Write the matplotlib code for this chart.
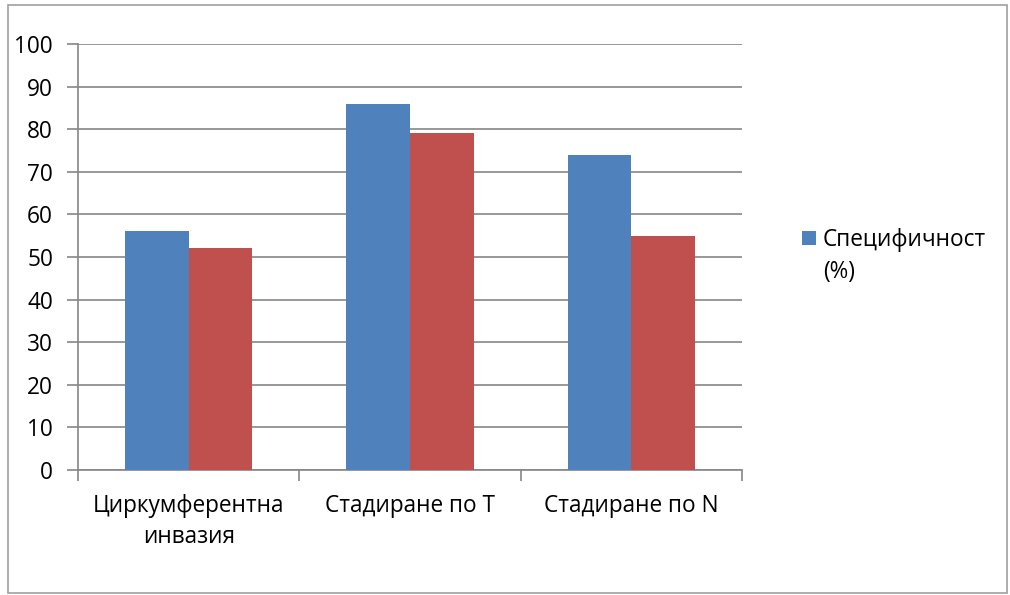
import numpy as np
import matplotlib.pyplot as plt
from matplotlib.patches import Rectangle

categories = ['Циркумферентна\nинвазия', 'Стадиране по Т', 'Стадиране по N']
specificity = [56, 86, 74]
second_series = [52, 79, 55]
legend_label = 'Специфичност'
legend_label_cont = '(%)'
y_ticks = [0, 10, 20, 30, 40, 50, 60, 70, 80, 90, 100]

plt.rcParams['font.family'] = ['Open Sans', 'DejaVu Sans']

fig = plt.figure(figsize=(10.1, 5.95), dpi=100)
ax = fig.add_axes([78 / 1010, 125 / 595, 664 / 1010, 426 / 595])

grey = '#868686'
fs = 16.3
x = np.arange(len(categories))
w = 0.287
b1 = ax.bar(x - w / 2, specificity, w, color='#4F81BD', label=legend_label, zorder=3)
ax.bar(x + w / 2, second_series, w, color='#C0504D', zorder=3)

ax.set_xlim(-0.5, len(categories) - 0.5)
ax.set_ylim(0, 100)
ax.set_yticks(y_ticks)
ax.yaxis.grid(True, color=grey, linewidth=1.2, zorder=0)
ax.set_axisbelow(True)

# category labels between boundary ticks
ax.set_xticks(np.arange(len(categories) + 1) - 0.5)
ax.set_xticklabels([])
ax.set_xticks(x, minor=True)
ax.set_xticklabels(categories, minor=True, fontsize=fs, linespacing=1.4)
ax.tick_params(axis='x', which='minor', length=0, pad=17)
ax.tick_params(axis='x', which='major', length=8, width=1.2, color=grey)
ax.tick_params(axis='y', length=8, width=1.2, color=grey, labelsize=fs, pad=10)

for s in ['top', 'right']:
    ax.spines[s].set_visible(False)
for s in ['left', 'bottom']:
    ax.spines[s].set_color(grey)
    ax.spines[s].set_linewidth(1.2)

# legend: square aligned with first line, label wraps to a second line
fig.legend(handles=[b1], labels=[legend_label], loc='center left',
           bbox_to_anchor=(802 / 1010, 1 - 240 / 595), frameon=False,
           borderpad=0, borderaxespad=0, fontsize=fs,
           handlelength=0.62, handleheight=0.62, handletextpad=0.31)
fig.text(823 / 1010, 1 - 272 / 595, legend_label_cont, fontsize=fs,
         ha='left', va='center')

fig.patches.append(Rectangle((8 / 1010, 2 / 595), 999 / 1010, 588 / 595,
                             transform=fig.transFigure, fill=False,
                             edgecolor='#A0A0A0', linewidth=1.2))

fig.savefig('out.png', dpi=100)
